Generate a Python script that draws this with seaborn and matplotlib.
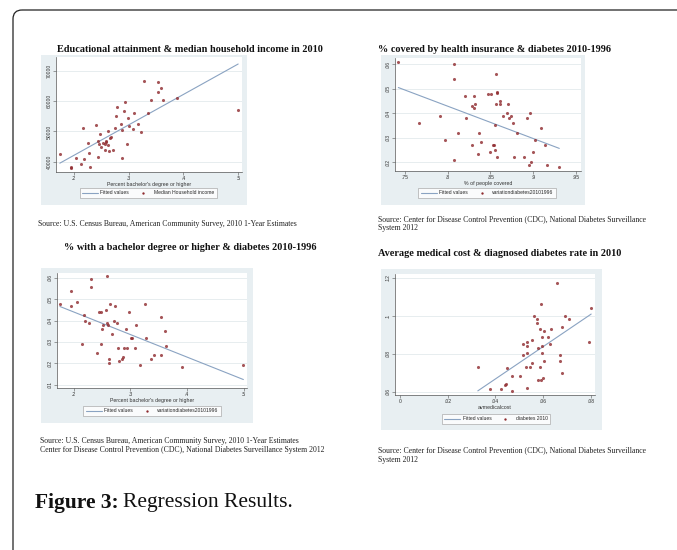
import numpy as np
import pandas as pd
import matplotlib
matplotlib.use("Agg")
import matplotlib.pyplot as plt
import seaborn as sns
from matplotlib.lines import Line2D
from matplotlib.patches import FancyBboxPatch, Rectangle

# panel 1: educational attainment vs median household income
edu_x = [0.174, 0.194, 0.194, 0.204, 0.213, 0.216, 0.218, 0.226, 0.228, 0.230,
         0.241, 0.244, 0.244, 0.247, 0.245, 0.249, 0.252, 0.256, 0.258, 0.259,
         0.257, 0.262, 0.262, 0.264, 0.266, 0.268, 0.272, 0.275, 0.277, 0.278,
         0.285, 0.287, 0.287, 0.292, 0.294, 0.296, 0.299, 0.301, 0.307, 0.309,
         0.316, 0.323, 0.327, 0.335, 0.341, 0.353, 0.353, 0.359, 0.363, 0.389, 0.500]
income_y = [42700, 38400, 38000, 41100, 39200, 51200, 40800, 46100, 42900, 38400,
            52200, 47000, 41600, 49000, 46000, 45000, 46200, 45800, 47000, 46600,
            43900, 50200, 45400, 43700, 47900, 48200, 44000, 51000, 55200, 57900,
            52500, 50500, 41200, 56700, 59600, 46000, 54300, 51700, 50700, 56100,
            52300, 49800, 66700, 55900, 60400, 63000, 66100, 64200, 60300, 61000, 57000]

# panel 2: % covered by health insurance vs diabetes change
ins_x = [0.7426, 0.7663, 0.7908, 0.7974, 0.8075, 0.8079, 0.8079, 0.8125, 0.8207, 0.8215,
         0.8284, 0.8281, 0.8304, 0.8312, 0.8319, 0.8357, 0.8365, 0.8389, 0.8471, 0.8495,
         0.8510, 0.8530, 0.8545, 0.8549, 0.8553, 0.8561, 0.8561, 0.8577, 0.8577, 0.8580,
         0.8612, 0.8616, 0.8650, 0.8693, 0.8704, 0.8716, 0.8743, 0.8763, 0.8774, 0.8805,
         0.8894, 0.8929, 0.8944, 0.8960, 0.8967, 0.8995, 0.9018, 0.9088, 0.9131, 0.9158, 0.9302]
ins_diab = [0.0610, 0.0360, 0.0390, 0.0290, 0.0600, 0.0540, 0.0211, 0.0321, 0.0470, 0.0381,
            0.0430, 0.0271, 0.0421, 0.0470, 0.0438, 0.0232, 0.0321, 0.0281, 0.0479, 0.0241,
            0.0479, 0.0271, 0.0271, 0.0251, 0.0351, 0.0440, 0.0560, 0.0489, 0.0481, 0.0221,
            0.0449, 0.0440, 0.0390, 0.0400, 0.0440, 0.0381, 0.0390, 0.0360, 0.0221, 0.0321,
            0.0221, 0.0381, 0.0190, 0.0400, 0.0200, 0.0241, 0.0290, 0.0341, 0.0271, 0.0190, 0.0181]

# panel 3: % bachelor degree vs diabetes change
bach_x = [0.176, 0.1959, 0.1959, 0.2059, 0.2146, 0.2176, 0.2199, 0.2281, 0.2299, 0.2316,
          0.2422, 0.2451, 0.2475, 0.2492, 0.2504, 0.2527, 0.2568, 0.2586, 0.2598, 0.2603,
          0.2633, 0.2633, 0.2650, 0.2685, 0.2709, 0.2738, 0.2767, 0.2785, 0.2797, 0.2861,
          0.2879, 0.2885, 0.2931, 0.2949, 0.2978, 0.3013, 0.3031, 0.3078, 0.3107, 0.3178,
          0.3254, 0.3277, 0.3359, 0.3424, 0.3535, 0.3547, 0.3605, 0.3634, 0.3904, 0.4994]
bach_diab = [0.0478, 0.0538, 0.0469, 0.0488, 0.0291, 0.0428, 0.0400, 0.0388, 0.0597, 0.0558,
             0.0250, 0.0439, 0.0439, 0.0291, 0.0359, 0.0378, 0.0448, 0.0388, 0.0608, 0.0381,
             0.0222, 0.0200, 0.0478, 0.0339, 0.0400, 0.0469, 0.0391, 0.0270, 0.0211, 0.0222,
             0.0230, 0.0270, 0.0359, 0.0270, 0.0439, 0.0320, 0.0320, 0.0270, 0.0378, 0.0191,
             0.0478, 0.0320, 0.0222, 0.0241, 0.0419, 0.0241, 0.0350, 0.0280, 0.0181, 0.0191]

# panel 4: average medical cost vs diabetes rate 2010
cost_x = [0.0326, 0.0379, 0.0422, 0.0441, 0.0446, 0.0449, 0.0469, 0.0471, 0.0501, 0.0516,
          0.0517, 0.0527, 0.0530, 0.0533, 0.0534, 0.0534, 0.0544, 0.0554, 0.0555, 0.0562,
          0.0575, 0.0576, 0.0579, 0.0580, 0.0585, 0.0586, 0.0590, 0.0592, 0.0593, 0.0593,
          0.0593, 0.0601, 0.0603, 0.0604, 0.0620, 0.0629, 0.0631, 0.0659, 0.0671, 0.0671,
          0.0677, 0.0677, 0.0690, 0.0708, 0.0792, 0.0801]
diab10 = [0.0732, 0.0614, 0.0614, 0.0634, 0.0644, 0.0724, 0.0683, 0.0604, 0.0683, 0.0792,
          0.0852, 0.0732, 0.0623, 0.0803, 0.0861, 0.0842, 0.0732, 0.0754, 0.0872, 0.1001,
          0.0981, 0.0962, 0.0831, 0.0664, 0.0732, 0.0932, 0.0664, 0.1061, 0.0891, 0.0842,
          0.0803, 0.0674, 0.0921, 0.0762, 0.0891, 0.0852, 0.0932, 0.1170, 0.0792, 0.0762,
          0.0941, 0.0702, 0.1001, 0.0981, 0.0861, 0.1041]

titles = ["Educational attainment & median household income in 2010",
          "% covered by health insurance & diabetes 2010-1996",
          "% with a bachelor degree or higher & diabetes 2010-1996",
          "Average medical cost & diagnosed diabetes rate in 2010"]
xlabels = ["Percent bachelor's degree or higher", "% of people covered",
           "Percent bachelor's degree or higher", "avmedicalcost"]
series_names = ["Median Household income", "variationdiabetes20101996",
                "variationdiabetes20101996", "diabetes 2010"]
xticks = [[0.2, 0.3, 0.4, 0.5], [0.75, 0.8, 0.85, 0.9, 0.95],
          [0.2, 0.3, 0.4, 0.5], [0, 0.02, 0.04, 0.06, 0.08]]
xticklabels = [[".2", ".3", ".4", ".5"], [".75", ".8", ".85", ".9", ".95"],
               [".2", ".3", ".4", ".5"], ["0", ".02", ".04", ".06", ".08"]]
yticks = [[40000, 50000, 60000, 70000], [0.02, 0.03, 0.04, 0.05, 0.06],
          [0.01, 0.02, 0.03, 0.04, 0.05, 0.06], [0.06, 0.08, 0.1, 0.12]]
yticklabels = [["40000", "50000", "60000", "70000"], [".02", ".03", ".04", ".05", ".06"],
               [".01", ".02", ".03", ".04", ".05", ".06"], [".06", ".08", ".1", ".12"]]
sources = [["Source: U.S. Census Bureau, American Community Survey, 2010 1-Year Estimates"],
           ["Source: Center for Disease Control Prevention (CDC), National Diabetes Surveillance",
            "System 2012"],
           ["Source: U.S. Census Bureau, American Community Survey, 2010 1-Year Estimates",
            "Center for Disease Control Prevention (CDC), National Diabetes Surveillance System 2012"],
           ["Source: Center for Disease Control Prevention (CDC), National Diabetes Surveillance",
            "System 2012"]]

xs = [edu_x, ins_x, bach_x, cost_x]
ys = [income_y, ins_diab, bach_diab, diab10]

# layout in pixels (x0, y0, x1, y1), y measured from the top
W, H = 677, 550
ax_px = [(56, 57, 242, 172), (395, 58, 581, 171), (57, 273, 247, 388), (395, 274, 595, 395)]
bg_px = [(41, 55, 247, 205), (381, 55, 585, 205), (41, 268, 253, 423), (381, 269, 602, 430)]
leg_px = [(148, 193), (487, 193), (152, 411), (496, 419)]
xlims = [(0.167, 0.507), (0.7387, 0.9555), (0.1708, 0.5058), (-0.0021, 0.0817)]
ylims = [(36640, 74470), (0.01643, 0.0626), (0.00845, 0.0623), (0.0584, 0.1219)]
title_pos = [(190, 49, "center"), (378, 50, "left"), (190, 248, "center"), (378, 253, "left")]
source_pos = [(38, [224]), (378, [219, 228]), (40, [441, 450]), (378, [450, 460])]

red = "#8f2a2e"
blue = "#8aa3c2"
region = "#e8eff2"

sns.set_style("white")
plt.rcParams["font.family"] = ["Liberation Sans", "DejaVu Sans"]

fig = plt.figure(figsize=(W / 100, H / 100), dpi=100)
bg = fig.add_axes([0, 0, 1, 1], zorder=-1)
bg.set_xlim(0, W)
bg.set_ylim(H, 0)
bg.axis("off")

# page frame with rounded corner (top and left edges only visible)
bg.add_patch(FancyBboxPatch((13, 10), 800, 700, boxstyle="round,pad=0,rounding_size=9",
                            fill=False, ec="#222222", lw=0.9))

serif = ["Liberation Serif", "DejaVu Serif"]

for i in range(4):
    x0, y0, x1, y1 = bg_px[i]
    bg.add_patch(Rectangle((x0, y0), x1 - x0, y1 - y0, color=region, lw=0))
    a0, b0, a1, b1 = ax_px[i]
    ax = fig.add_axes([a0 / W, 1 - b1 / H, (a1 - a0) / W, (b1 - b0) / H])
    df = pd.DataFrame({"x": xs[i], "y": ys[i]})
    sns.regplot(data=df, x="x", y="y", ax=ax, ci=None,
                scatter_kws=dict(s=5, color=red, linewidths=0, zorder=3),
                line_kws=dict(color=blue, lw=0.8, zorder=2))
    ax.set_xlim(*xlims[i])
    ax.set_ylim(*ylims[i])
    ax.set_xticks(xticks[i])
    ax.set_xticklabels(xticklabels[i])
    ax.set_yticks(yticks[i])
    ax.set_yticklabels(yticklabels[i], rotation=90, va="center")
    ax.set_facecolor("white")
    ax.grid(axis="y", color="#e3eaed", lw=0.6)
    ax.set_axisbelow(True)
    for s in ["top", "right"]:
        ax.spines[s].set_visible(False)
    for s in ["left", "bottom"]:
        ax.spines[s].set_color("#555555")
        ax.spines[s].set_linewidth(0.5)
    ax.tick_params(axis="both", length=2, width=0.4, color="#555555",
                   labelsize=3.6, pad=1, labelcolor="#333333", direction="out")
    ax.tick_params(bottom=True, left=True)
    ax.set_xlabel(xlabels[i], fontsize=3.8, labelpad=0.5, color="#333333")
    ax.set_ylabel("")

    handles = [Line2D([], [], color=blue, lw=0.8),
               Line2D([], [], color=red, marker="o", ms=1.7, lw=0, mew=0)]
    leg = ax.legend(handles, ["Fitted values", series_names[i]], ncol=2,
                    loc="center", bbox_to_anchor=leg_px[i], bbox_transform=bg.transData,
                    fontsize=3.6, frameon=True, fancybox=False, borderpad=0.5,
                    handlelength=3.2, columnspacing=1.2, handletextpad=0.5)
    leg.get_frame().set_edgecolor("#999999")
    leg.get_frame().set_linewidth(0.5)
    leg.get_frame().set_facecolor("white")

    tx, ty, ha = title_pos[i]
    bg.text(tx, ty, titles[i], ha=ha, va="center", fontsize=7.4,
            fontweight="bold", family=serif, color="#111111")
    sx, sys_ = source_pos[i]
    for line, yy in zip(sources[i], sys_):
        bg.text(sx, yy, line, ha="left", va="center", fontsize=5.6,
                family=serif, color="#222222")

# caption: bold label then regular text
cap1 = bg.text(35, 503, "Figure 3:", ha="left", va="center", fontsize=15.5,
               fontweight="bold", family=serif, color="#111111")
fig.canvas.draw()
bb = cap1.get_window_extent(renderer=fig.canvas.get_renderer())
x_end = bg.transData.inverted().transform((bb.x1, bb.y0))[0]
bg.text(x_end + 4, 503, "Regression Results.", ha="left", va="center",
        fontsize=15.5, family=serif, color="#111111")

fig.savefig("out.png", dpi=100)
